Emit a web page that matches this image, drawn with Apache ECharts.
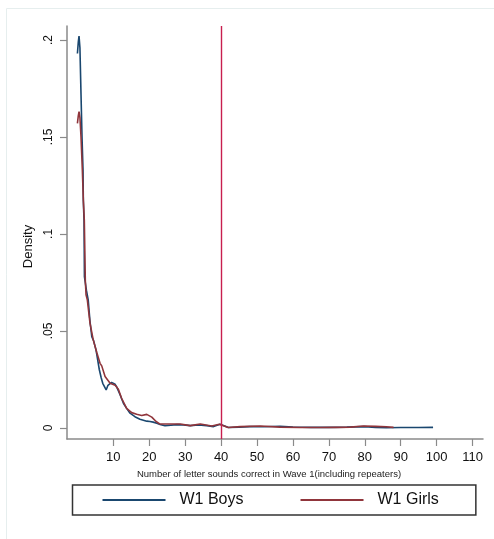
<!DOCTYPE html>
<html>
<head>
<meta charset="utf-8">
<script src="https://cdn.jsdelivr.net/npm/echarts@6/dist/echarts.min.js"></script>
<style>
html,body{margin:0;padding:0;background:#fff;}
#chart{width:494px;height:539px;}
</style>
</head>
<body>
<div id="chart"></div>
<script>
// x = number of letter sounds correct, y = density
var boysX = [0, 0.25, 0.45, 0.7, 1.0, 1.28, 1.56, 1.65, 1.84, 1.95, 2.5, 3.0, 3.5, 4.0, 4.5, 5.2, 6.1, 6.6, 7.05, 7.5, 8.0, 8.5, 8.9, 9.5, 10.0, 10.5, 10.9, 11.9, 12.8, 13.7, 14.65, 16.0, 17.4, 19.3, 20.2, 21.1, 22.1, 23, 24.4, 26, 27.7, 29.5, 31.4, 33.7, 36, 37.9, 39.7, 41, 42, 45, 48, 52, 56.4, 60, 65, 70, 75, 80, 83, 86, 90, 95, 99];
var boysY = [0.193, 0.199, 0.202, 0.196, 0.172, 0.150, 0.133, 0.117, 0.107, 0.078, 0.071, 0.066, 0.055, 0.047, 0.045, 0.040, 0.030, 0.026, 0.023, 0.022, 0.0196, 0.022, 0.023, 0.0235, 0.0234, 0.0225, 0.0213, 0.017, 0.0127, 0.0101, 0.0076, 0.0058, 0.0045, 0.0035, 0.0033, 0.0030, 0.0024, 0.0018, 0.0011, 0.0014, 0.0017, 0.0016, 0.0012, 0.0015, 0.0012, 0.0007, 0.0019, 0.0010, 0.0002, 0.0004, 0.0007, 0.0006, 0.0009, 0.0005, 0.0003, 0.0003, 0.0004, 0.0007, 0.0002, 0.0001, 0.0002, 0.0002, 0.0003];
var girlsX = [0, 0.25, 0.45, 0.7, 1.0, 1.37, 1.65, 1.92, 2.2, 2.4, 2.76, 3.5, 4.4, 5.37, 6.3, 6.77, 7.7, 8.16, 9.1, 9.55, 10.5, 10.9, 11.4, 12.3, 13.7, 15.1, 16.5, 17.9, 19.3, 20.7, 21.9, 23, 24.9, 28.6, 31.4, 34.2, 37.4, 39.5, 42, 45.3, 50.9, 56.4, 62, 67.6, 72, 76, 79.6, 83, 86, 88];
var girlsY = [0.157, 0.161, 0.163, 0.160, 0.150, 0.133, 0.1175, 0.107, 0.076, 0.0686, 0.066, 0.054, 0.0454, 0.039, 0.0333, 0.032, 0.0265, 0.0256, 0.023, 0.0239, 0.022, 0.0213, 0.020, 0.0153, 0.0101, 0.0079, 0.0071, 0.0064, 0.0070, 0.0056, 0.0033, 0.002, 0.002, 0.002, 0.0012, 0.002, 0.001, 0.0019, 0.0002, 0.0007, 0.001, 0.0004, 0.0002, 0.0002, 0.0003, 0.0004, 0.001, 0.0008, 0.0006, 0.0003];
var xTicks = [10, 20, 30, 40, 50, 60, 70, 80, 90, 100, 110];
var yTicks = [0, 0.05, 0.1, 0.15, 0.2];
var yTickLabels = ['0', '.05', '.1', '.15', '.2'];
var refLineX = 40;
var seriesNames = ['W1 Boys', 'W1 Girls'];

function zip(a, b) { return a.map(function (v, i) { return [v, b[i]]; }); }

var font = "'Liberation Sans', Arial, sans-serif";
var axisColor = '#8a8a8a';
var chart = echarts.init(document.getElementById('chart'), null, {renderer: 'canvas'});
chart.setOption({
  animation: false,
  backgroundColor: '#ffffff',
  graphic: [{
    type: 'rect', silent: true, z: -1,
    shape: {x: 6.5, y: 8.5, width: 520, height: 600},
    style: {fill: 'none', stroke: '#e6eeee', lineWidth: 1}
  }],
  grid: {left: 67, right: 11, top: 26, bottom: 100},
  xAxis: {
    type: 'value', min: -2.9, max: 112.9,
    name: 'Number of letter sounds correct in Wave 1(including repeaters)',
    nameLocation: 'middle', nameGap: 25,
    nameTextStyle: {fontFamily: font, fontSize: 9.5, color: '#222', padding: [0, 12, 0, 0]},
    axisLine: {show: true, onZero: false, lineStyle: {color: axisColor, width: 1.5}},
    axisTick: {show: true, length: 7, customValues: xTicks, lineStyle: {color: axisColor, width: 1.2}},
    axisLabel: {customValues: xTicks, margin: 12, fontFamily: font, fontSize: 13, color: '#111'},
    splitLine: {show: false}
  },
  yAxis: {
    type: 'value', min: -0.0057, max: 0.2072,
    name: 'Density', nameLocation: 'middle', nameGap: 30, nameRotate: 90,
    nameTextStyle: {fontFamily: font, fontSize: 13, color: '#111', padding: [0, 28, 0, 0]},
    axisLine: {show: true, onZero: false, lineStyle: {color: axisColor, width: 1.5}},
    axisTick: {show: true, length: 7, customValues: yTicks, lineStyle: {color: axisColor, width: 1.2}},
    axisLabel: {
      customValues: yTicks, rotate: 90, margin: 12, fontFamily: font, fontSize: 12, color: '#111',
      formatter: function (v) {
        for (var i = 0; i < yTicks.length; i++) { if (Math.abs(yTicks[i] - v) < 1e-9) return yTickLabels[i]; }
        return '';
      }
    },
    splitLine: {show: false}
  },
  legend: {
    left: 72.5, top: 485,
    orient: 'horizontal',
    padding: [7, 37, 7, 29],
    itemGap: 56, itemWidth: 63, itemHeight: 14,
    itemStyle: {opacity: 0},
    borderColor: '#333', borderWidth: 1.5,
    textStyle: {fontFamily: font, fontSize: 16, color: '#111', padding: [0, 0, 0, 9]},
    data: seriesNames
  },
  series: [{
    name: seriesNames[0], type: 'line', symbol: 'none', smooth: false,
    data: zip(boysX, boysY),
    lineStyle: {color: '#1a476f', width: 1.6}, itemStyle: {color: '#1a476f'},
    markLine: {
      silent: true, symbol: 'none', label: {show: false},
      lineStyle: {color: '#c81e4e', width: 1.4, type: 'solid'},
      data: [{xAxis: refLineX}]
    }
  }, {
    name: seriesNames[1], type: 'line', symbol: 'none', smooth: false,
    data: zip(girlsX, girlsY),
    lineStyle: {color: '#90353b', width: 1.6}, itemStyle: {color: '#90353b'}
  }]
});
</script>
</body>
</html>
